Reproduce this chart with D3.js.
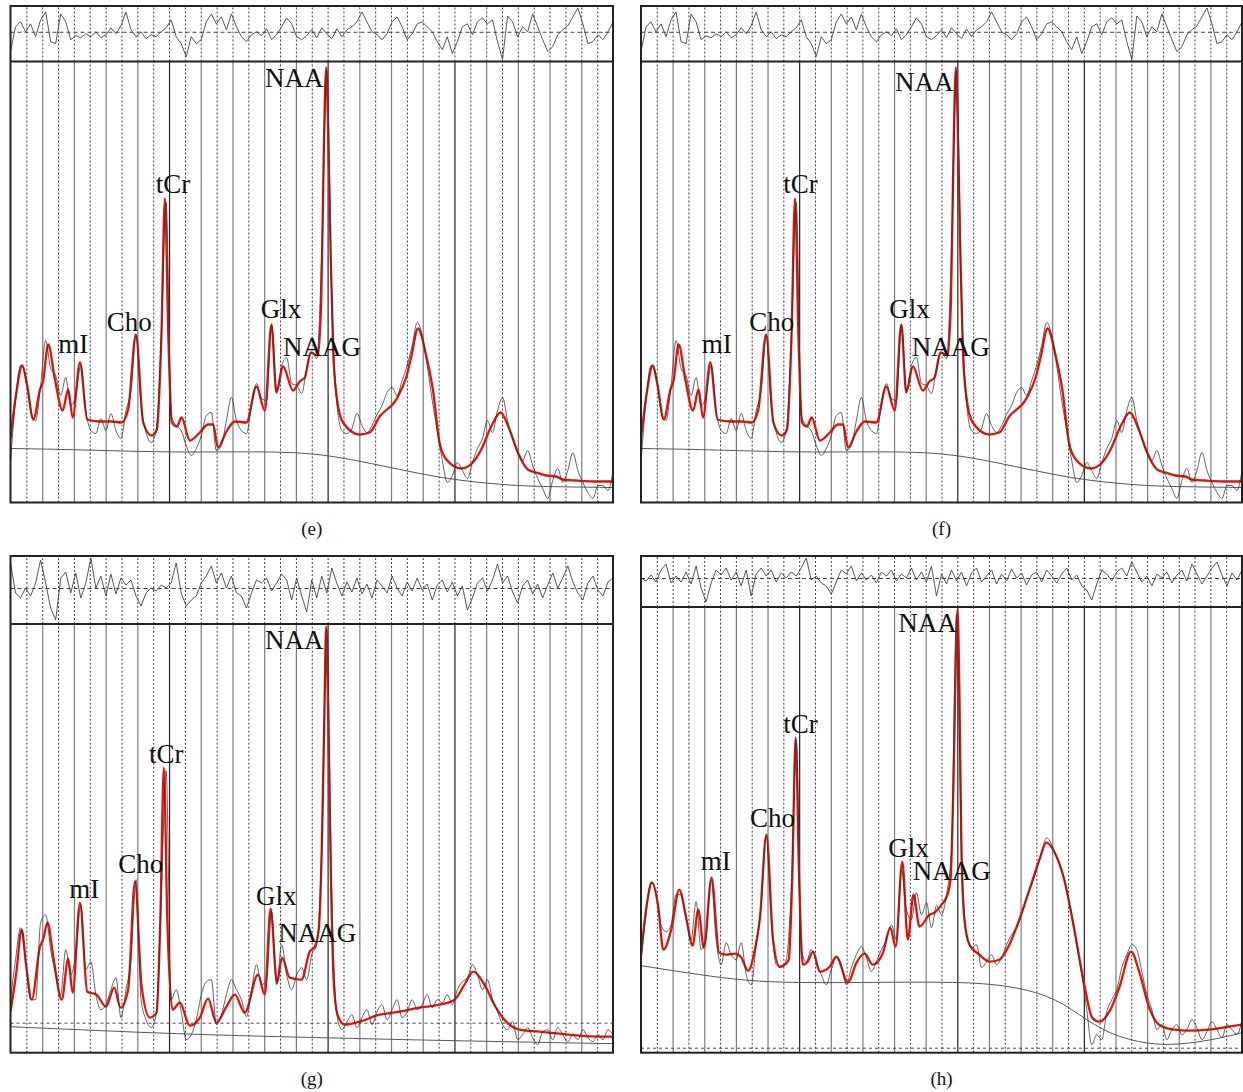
<!DOCTYPE html>
<html><head><meta charset="utf-8">
<script src="https://cdn.jsdelivr.net/npm/d3@7"></script>
<style>body{margin:0;background:#fff}svg{display:block}</style>
</head><body>
<svg id="c" width="1243" height="1092"></svg>
<script>
// ---------- shared x grid (chemical shift, ppm) ----------
const PPM_START = 4.0, PPM_END = 0.2;
const sampledPpm = d3.range(121).map(i => PPM_START - i * (PPM_START - PPM_END) / 120);
const solidGridPpm = [3.8,3.6,3.4,3.2,3.0,2.8,2.6,2.4,2.2,2.0,1.8,1.6,1.4,1.2,1.0,0.8,0.6,0.4];
const dottedGridPpm = [3.9,3.7,3.5,3.3,3.1,2.9,2.7,2.5,2.3,2.1,1.9,1.7,1.5,1.3,1.1,0.9,0.7,0.5,0.3];
const darkGridPpm = [3.0,2.0,1.2];
const metabolites = ["NAA","tCr","mI","Cho","Glx","NAAG"];

// ---------- spectrum shown in (e) and (f) ----------
const efFitPpm = [4.000,3.965,3.926,3.896,3.856,3.814,3.795,3.762,3.720,3.671,3.636,3.608,3.562,3.516,3.436,3.362,3.299,3.258,3.209,3.163,3.110,3.077,3.049,3.026,3.004,2.982,2.951,2.921,2.869,2.806,2.754,2.722,2.691,2.638,2.585,2.512,2.449,2.396,2.354,2.323,2.281,2.218,2.176,2.144,2.106,2.061,2.040,2.025,2.009,1.993,1.980,1.965,1.943,1.903,1.798,1.735,1.672,1.567,1.503,1.472,1.430,1.377,1.336,1.294,1.251,1.157,1.084,1.031,0.968,0.909,0.853,0.800,0.737,0.684,0.621,0.558,0.517,0.432,0.285,0.200];
const efFitVal = [64,108,137,118,83,113,121,158,123,92,113,85,140,83,81,81,80,93,168,80,67,73,163,304,163,80,76,85,62,70,78,78,55,71,81,80,116,92,178,110,136,112,121,125,150,147,203,343,435,343,243,153,106,80,68,70,86,103,126,146,174,146,113,60,43,34,40,53,76,90,73,50,33,30,27,26,23,22,21,21];
const efDataVal = [40,102,137,127,92,82,117,162,134,127,107,125,97,107,137,92,72,69,84,72,89,72,64,92,112,167,97,70,60,72,162,300,87,77,72,57,47,54,67,87,90,52,57,82,105,82,72,69,97,119,104,102,177,112,137,145,119,117,109,134,150,144,252,432,202,99,72,69,74,89,77,70,77,88,97,110,115,107,122,137,157,180,167,137,102,72,42,20,27,40,32,24,40,54,64,82,70,92,105,82,64,50,42,52,37,24,14,4,22,34,20,32,50,32,20,10,4,17,17,12,32];
const efResidual = [-20,5,10,0,8,-5,12,20,-10,-12,18,10,-8,-4,-6,-2,-5,0,-6,-3,4,-2,6,20,2,-5,0,-7,-3,-5,0,4,12,-5,-12,-25,-5,-12,-8,10,18,8,15,2,18,5,-5,-10,-3,0,-4,3,-8,-3,5,14,8,-5,-8,-4,2,-6,4,-2,-7,3,-5,2,5,10,20,10,0,-3,-8,-2,10,15,5,-8,-2,8,10,5,0,-10,-18,-5,-22,-10,5,8,-3,10,14,8,12,-10,-28,16,10,-5,5,0,18,5,-8,-20,-15,-3,2,6,15,24,8,-12,-10,-3,-8,0,10];
const efBasePpm = [4.0,3.606,3.014,2.491,2.150,1.905,1.546,1.231,0.916,0.707,0.2];
const efBaseVal = [54,53,50,51,50,45,33,23,18,16,15];

// ---------- spectrum (g) ----------
const gFitPpm = [4.000,3.965,3.929,3.902,3.866,3.814,3.795,3.766,3.730,3.677,3.636,3.608,3.562,3.516,3.457,3.398,3.346,3.306,3.258,3.215,3.173,3.121,3.079,3.055,3.033,3.011,2.978,2.932,2.869,2.806,2.754,2.701,2.638,2.585,2.523,2.439,2.396,2.360,2.319,2.287,2.239,2.165,2.113,2.081,2.056,2.037,2.021,2.009,1.996,1.980,1.962,1.937,1.893,1.798,1.672,1.546,1.420,1.294,1.199,1.137,1.080,1.011,0.948,0.885,0.790,0.663,0.537,0.411,0.285,0.200];
const gFitVal = [41,78,123,88,53,106,113,130,96,53,94,60,150,61,58,46,65,45,63,171,66,35,40,133,285,133,43,50,27,35,54,30,46,58,40,78,58,144,70,95,75,73,101,106,123,203,333,426,333,183,73,38,28,31,38,41,45,48,53,68,81,68,48,33,23,21,19,17,16,16];
const gDataVal = [53,93,125,93,53,53,130,138,103,78,58,103,78,98,148,83,91,58,43,48,63,75,35,63,93,173,53,33,25,38,153,282,53,63,41,13,18,33,58,71,73,28,38,58,73,63,53,36,63,88,68,73,141,68,108,78,63,78,85,73,98,108,203,423,153,38,23,31,38,25,35,43,28,41,48,33,43,53,35,41,53,43,48,58,45,53,50,58,48,63,71,75,88,78,63,73,53,41,28,23,31,13,18,25,15,8,21,23,13,25,18,11,18,13,23,15,11,18,13,23,18];
const gResidual = [25,-5,-10,0,-8,5,28,5,-20,-32,10,16,-5,15,-10,5,30,0,12,-8,14,-6,10,3,8,-8,-18,-5,0,-3,3,0,5,25,-5,-18,-12,-8,5,12,22,5,15,0,12,-5,-8,-20,-5,8,5,10,-3,5,14,8,-12,10,-8,-24,8,-10,12,-5,20,5,-8,6,-4,10,-6,4,-10,8,2,-5,12,0,-8,6,-3,10,-2,4,-12,3,8,-4,6,-8,2,-22,-10,5,10,-3,8,24,5,12,-4,-15,2,8,-6,4,-10,3,15,0,10,22,6,-5,-12,5,12,-2,-8,6,10];
const gBasePpm = [4.0,3.436,2.806,2.050,1.231,0.2];
const gBaseVal = [26,22,18,15,12,9];
const gZeroLevel = 30;

// ---------- spectrum (h) ----------
const hFitPpm = [4.000,3.968,3.929,3.891,3.859,3.806,3.758,3.712,3.674,3.638,3.602,3.554,3.506,3.459,3.407,3.369,3.323,3.280,3.249,3.207,3.165,3.123,3.091,3.066,3.044,3.022,3.000,2.977,2.946,2.912,2.870,2.807,2.765,2.691,2.638,2.586,2.534,2.470,2.424,2.390,2.348,2.313,2.277,2.239,2.176,2.144,2.100,2.062,2.043,2.024,2.012,1.999,1.986,1.974,1.955,1.923,1.860,1.797,1.734,1.671,1.608,1.544,1.481,1.437,1.387,1.324,1.260,1.197,1.147,1.103,1.039,0.976,0.901,0.850,0.787,0.724,0.629,0.535,0.408,0.282,0.200];
const hFitVal = [97,143,170,146,103,125,163,133,107,143,105,175,100,98,99,96,82,103,133,218,113,86,88,93,173,315,173,88,91,101,81,86,96,70,90,99,88,100,125,106,191,113,158,126,138,140,148,158,173,273,373,443,353,203,133,108,98,91,93,108,133,163,193,210,201,173,123,68,35,31,41,65,101,81,45,28,23,22,23,26,28];
const hDataVal = [93,138,171,158,128,121,128,158,158,135,113,151,103,118,173,113,88,110,98,93,110,78,68,108,148,218,133,88,85,93,163,313,103,91,103,91,78,68,83,95,88,68,85,98,106,95,81,91,103,113,128,113,183,143,133,160,138,150,125,147,138,158,203,438,203,118,105,108,85,91,98,88,95,108,118,125,138,155,168,183,201,215,208,195,183,163,138,108,78,43,8,18,13,41,53,63,85,98,108,103,81,58,43,23,28,13,23,28,18,23,33,25,13,21,31,23,15,28,23,18,33];
const hResidual = [0,-3,3,-4,8,14,-5,2,-4,6,-6,12,-10,-24,-5,8,3,10,-2,6,-8,8,-18,4,10,2,8,-4,5,0,6,2,10,20,-2,2,-5,-8,-16,-4,8,4,12,-3,5,-2,3,-5,6,2,8,-3,4,0,10,-2,6,-4,12,-18,4,-6,8,-3,6,-8,5,10,-4,2,8,-6,4,-3,9,0,5,-7,3,6,-4,8,2,-5,4,10,-2,3,-8,-12,-22,-6,8,4,-3,6,10,2,16,6,-4,2,-8,4,0,6,-5,3,8,-3,14,4,-6,2,10,16,3,-8,5,-2,8];
const hBasePpm = [4.0,3.754,3.501,3.186,2.662,2.113,1.734,1.418,1.229,1.039,0.787,0.598,0.377,0.2];
const hBaseVal = [87,81,75,70,70,71,69,58,38,18,8,8,13,20];
const hZeroLevel = 5;

// ---------- tables built from the arrays ----------
const zip = (xs, ys) => xs.map((v, i) => [v, ys[i]]);
const spectra = {
  ef: {fit: zip(efFitPpm, efFitVal), data: zip(sampledPpm, efDataVal), res: zip(sampledPpm, efResidual), base: zip(efBasePpm, efBaseVal), zero: null},
  g:  {fit: zip(gFitPpm, gFitVal),   data: zip(sampledPpm, gDataVal),  res: zip(sampledPpm, gResidual),  base: zip(gBasePpm, gBaseVal),  zero: gZeroLevel},
  h:  {fit: zip(hFitPpm, hFitVal),   data: zip(sampledPpm, hDataVal),  res: zip(sampledPpm, hResidual),  base: zip(hBasePpm, hBaseVal),  zero: hZeroLevel}
};

// ---------- layout ----------
const panels = [
  {id:"e", spec:"ef", x0:10.5, x1:613, top:6,   sep:61.5, bottom:502.5,  yMax:441,   rDom:[-30,26], capY:535,
   lab:[[265,87],[155.7,192.7],[58.3,352.7],[106.7,331],[260.7,318.3],[283,356]]},
  {id:"f", spec:"ef", x0:641,  x1:1242, top:6,   sep:61.5, bottom:502.5,  yMax:441,   rDom:[-30,26], capY:535,
   lab:[[895,91],[783.3,192.7],[701.7,352.7],[749.3,331],[889.3,318.3],[911.7,356]]},
  {id:"g", spec:"g",  x0:10.5, x1:613, top:556, sep:624,  bottom:1052.7, yMax:428.7, rDom:[-36,32], capY:1085,
   lab:[[265,649.3],[149,763.3],[69.3,898.3],[118.3,873.3],[256,905],[278.3,941.7]]},
  {id:"h", spec:"h",  x0:641,  x1:1242, top:556, sep:607,  bottom:1052.7, yMax:445.7, rDom:[-29,22], capY:1085,
   lab:[[898.3,631.7],[783.3,732.7],[700.7,870],[750,826.7],[888.3,856.7],[912.7,880]]}
];

const svg = d3.select("#c");
const serif = "'Liberation Serif','Times New Roman',serif";

panels.forEach(p => {
  const S = spectra[p.spec];
  const G = svg.append("g");
  const x = d3.scaleLinear().domain([PPM_START, PPM_END]).range([p.x0, p.x1]);
  const y = d3.scaleLinear().domain([0, p.yMax]).range([p.bottom, p.sep]);
  const yr = d3.scaleLinear().domain(p.rDom).range([p.sep, p.top]);

  const defs = G.append("defs");
  defs.append("clipPath").attr("id", "m" + p.id).append("rect")
    .attr("x", p.x0).attr("y", p.sep).attr("width", p.x1 - p.x0).attr("height", p.bottom - p.sep);
  defs.append("clipPath").attr("id", "r" + p.id).append("rect")
    .attr("x", p.x0).attr("y", p.top).attr("width", p.x1 - p.x0).attr("height", p.sep - p.top);

  // main-area grid
  const gs = G.append("g").attr("transform", `translate(0,${p.bottom})`)
    .call(d3.axisBottom(x).tickValues(solidGridPpm).tickSize(-(p.bottom - p.sep)).tickFormat(""));
  gs.select(".domain").remove();
  gs.selectAll(".tick line").attr("stroke", d => darkGridPpm.includes(d) ? "#222" : "#7c7c7c").attr("stroke-width", 1.2);
  const gd = G.append("g").attr("transform", `translate(0,${p.bottom})`)
    .call(d3.axisBottom(x).tickValues(dottedGridPpm).tickSize(-(p.bottom - p.sep)).tickFormat(""));
  gd.select(".domain").remove();
  gd.selectAll(".tick line").attr("stroke", "#3a3a3a").attr("stroke-width", 1).attr("stroke-dasharray", "2,2");

  // residual-area grid
  const gr = G.append("g").attr("transform", `translate(0,${p.sep})`)
    .call(d3.axisBottom(x).tickValues(solidGridPpm.concat(dottedGridPpm)).tickSize(-(p.sep - p.top)).tickFormat(""));
  gr.select(".domain").remove();
  gr.selectAll(".tick line").attr("stroke", "#444").attr("stroke-width", 1).attr("stroke-dasharray", "2,2");
  const gm = G.append("g").attr("transform", `translate(${p.x0},0)`)
    .call(d3.axisLeft(yr).tickValues([0]).tickSize(-(p.x1 - p.x0)).tickFormat(""));
  gm.select(".domain").remove();
  gm.selectAll(".tick line").attr("stroke", "#444").attr("stroke-dasharray", "4,3");

  // zero level
  if (S.zero !== null) {
    const gz = G.append("g").attr("transform", `translate(${p.x0},0)`)
      .call(d3.axisLeft(y).tickValues([S.zero]).tickSize(-(p.x1 - p.x0)).tickFormat(""));
    gz.select(".domain").remove();
    gz.selectAll(".tick line").attr("stroke", "#444").attr("stroke-dasharray", "3,3");
  }

  const line = d3.line().x(d => x(d[0])).y(d => y(d[1])).curve(d3.curveMonotoneX);
  const baseLine = d3.line().x(d => x(d[0])).y(d => y(d[1])).curve(d3.curveBasis);
  const main = G.append("g").attr("clip-path", `url(#m${p.id})`);
  main.append("path").datum(S.base).attr("d", baseLine).attr("fill", "none").attr("stroke", "#555").attr("stroke-width", 1);
  main.append("path").datum(S.fit).attr("d", line).attr("fill", "none").attr("stroke", "#e3120b").attr("stroke-width", 2.3).attr("stroke-linejoin", "round");
  main.append("path").datum(S.data).attr("d", line).attr("fill", "none").attr("stroke", "#333").attr("stroke-width", 0.9).attr("stroke-opacity", 0.85);

  const rline = d3.line().x(d => x(d[0])).y(d => yr(d[1]));
  G.append("g").attr("clip-path", `url(#r${p.id})`).append("path").datum(S.res)
    .attr("d", rline).attr("fill", "none").attr("stroke", "#444").attr("stroke-width", 0.9).attr("stroke-linejoin", "round");

  // frame
  G.append("rect").attr("x", p.x0).attr("y", p.top).attr("width", p.x1 - p.x0).attr("height", p.bottom - p.top)
    .attr("fill", "none").attr("stroke", "#222").attr("stroke-width", 2);
  G.append("line").attr("x1", p.x0).attr("x2", p.x1).attr("y1", p.sep).attr("y2", p.sep)
    .attr("stroke", "#222").attr("stroke-width", 2);

  // labels
  G.selectAll("text.lab").data(metabolites).join("text").attr("class", "lab")
    .attr("x", (d, i) => p.lab[i][0]).attr("y", (d, i) => p.lab[i][1])
    .attr("font-family", serif).attr("font-size", 27).attr("fill", "#111").text(d => d);

  G.append("text").attr("x", (p.x0 + p.x1) / 2).attr("y", p.capY).attr("text-anchor", "middle")
    .attr("font-family", serif).attr("font-size", 19).attr("fill", "#111").text(`(${p.id})`);
});
</script>
</body></html>
